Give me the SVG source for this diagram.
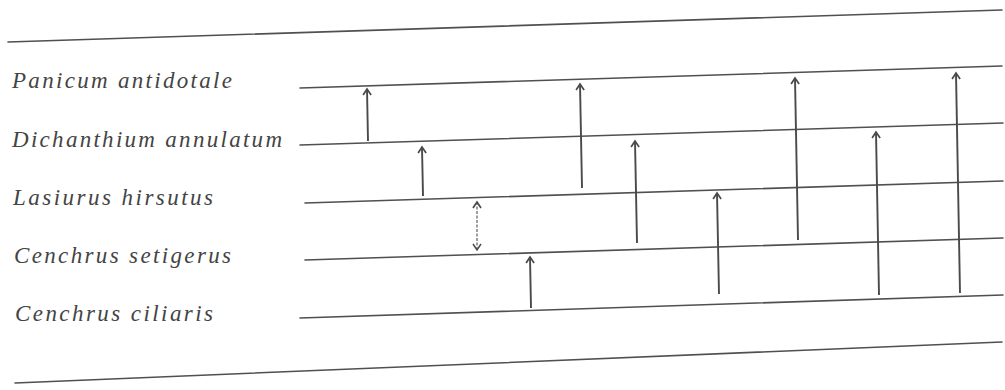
<svg xmlns="http://www.w3.org/2000/svg" width="1005" height="390" viewBox="0 0 1005 390">
<style>
  .bg{fill:#ffffff}
  .rule{stroke:#505050;stroke-width:1.6;fill:none;stroke-linecap:round}
  .lab{font-family:"Liberation Serif","Times New Roman",serif;font-style:italic;font-size:23px;fill:#444444}
  .arr{stroke:#4a4a4a;stroke-width:1.9;fill:none;marker-end:url(#head)}
  .dbl{stroke:#6a6a6a;stroke-width:1.3;fill:none;stroke-dasharray:3 1.5;marker-start:url(#headS);marker-end:url(#head)}
</style>
<defs>
  <marker id="head" viewBox="-8 -6 10 12" markerWidth="10" markerHeight="12" refX="0" refY="0" orient="auto" markerUnits="userSpaceOnUse">
    <path d="M-6,-4 L0,0 L-6,4" fill="none" stroke="#4a4a4a" stroke-width="1.7" stroke-linejoin="miter"/>
  </marker>
  <marker id="headS" viewBox="-8 -6 10 12" markerWidth="10" markerHeight="12" refX="0" refY="0" orient="auto-start-reverse" markerUnits="userSpaceOnUse">
    <path d="M-6,-4 L0,0 L-6,4" fill="none" stroke="#4a4a4a" stroke-width="1.5"/>
  </marker>
</defs>
<rect class="bg" x="0" y="0" width="1005" height="390"/>
<g id="frame">
  <line class="rule" x1="8" y1="42" x2="1002" y2="10"/>
  <line class="rule" x1="15" y1="383" x2="1002" y2="342"/>
</g>
<g id="row-panicum">
  <text class="lab" x="12" y="88" textLength="220" lengthAdjust="spacing">Panicum antidotale</text>
  <line class="rule" x1="300" y1="88" x2="1002" y2="66"/>
</g>
<g id="row-dichanthium">
  <text class="lab" x="12" y="147" textLength="270" lengthAdjust="spacing">Dichanthium annulatum</text>
  <line class="rule" x1="300" y1="145" x2="1003" y2="123"/>
</g>
<g id="row-lasiurus">
  <text class="lab" x="13" y="205" textLength="200" lengthAdjust="spacing">Lasiurus hirsutus</text>
  <line class="rule" x1="305" y1="203" x2="1003" y2="181"/>
</g>
<g id="row-setigerus">
  <text class="lab" x="14" y="263" textLength="217" lengthAdjust="spacing">Cenchrus setigerus</text>
  <line class="rule" x1="305" y1="260" x2="1003" y2="238"/>
</g>
<g id="row-ciliaris">
  <text class="lab" x="15" y="321" textLength="198" lengthAdjust="spacing">Cenchrus ciliaris</text>
  <line class="rule" x1="300" y1="318" x2="1003" y2="295"/>
</g>
<g id="connectors">
  <line class="arr" x1="368" y1="141" x2="367" y2="89"/>
  <line class="arr" x1="423" y1="196" x2="422" y2="147"/>
  <line class="dbl" x1="477" y1="250" x2="477" y2="202"/>
  <line class="arr" x1="531" y1="308" x2="530" y2="257"/>
  <line class="arr" x1="582" y1="188" x2="580" y2="84"/>
  <line class="arr" x1="637" y1="243" x2="635" y2="141"/>
  <line class="arr" x1="719" y1="294" x2="717" y2="193"/>
  <line class="arr" x1="798" y1="240" x2="795" y2="78"/>
  <line class="arr" x1="879" y1="295" x2="876" y2="132"/>
  <line class="arr" x1="960" y1="293" x2="956" y2="73"/>
</g>
</svg>
